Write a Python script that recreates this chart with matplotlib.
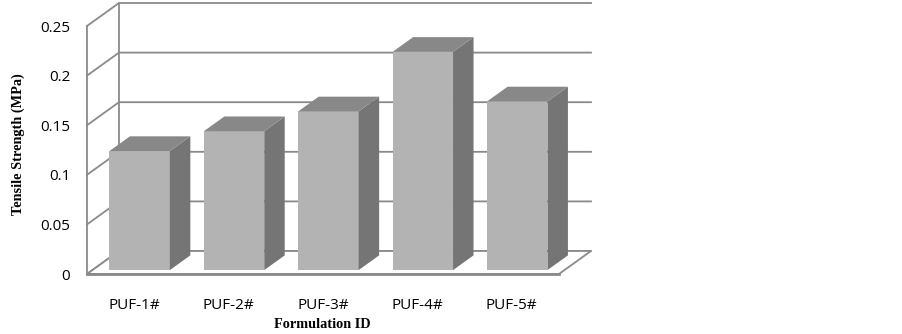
import matplotlib
matplotlib.use("Agg")
import matplotlib.pyplot as plt
from matplotlib.patches import Polygon
from matplotlib.ticker import FixedLocator, FixedFormatter

# ---- data ----
categories = ["PUF-1#", "PUF-2#", "PUF-3#", "PUF-4#", "PUF-5#"]
values = [0.12, 0.14, 0.16, 0.22, 0.17]
y_ticks = [0, 0.05, 0.10, 0.15, 0.20, 0.25]
y_tick_labels = ["0", "0.05", "0.1", "0.15", "0.2", "0.25"]
x_title = "Formulation ID"
y_title = "Tensile Strength (MPa)"

# ---- styling ----
W, H = 903, 334
fig = plt.figure(figsize=(W / 100, H / 100), dpi=100)
fig.patch.set_facecolor("white")

# front plane of the 3D box, in pixels
fx0, fx1, fy0, fy1 = 87, 559, 274, 26
ax = fig.add_axes([fx0 / W, (H - fy0) / H, (fx1 - fx0) / W, (fy0 - fy1) / H])
n = len(categories)
ax.set_xlim(-0.5, n - 0.5)
ax.set_ylim(y_ticks[0], y_ticks[-1])
ax.patch.set_alpha(0)

px_per_x = (fx1 - fx0) / n
px_per_y = (fy0 - fy1) / (y_ticks[-1] - y_ticks[0])
# depth vector (oblique projection) in data units
Dx = 32 / px_per_x
Dy = 23 / px_per_y

line_col = "#8a8a8a"
lw = 1.3

x_left = -0.5
x_right = n - 0.5

# left wall and back wall gridlines
for t in y_ticks:
    ax.plot([x_left, x_left + Dx, x_right + Dx], [t, t + Dy, t + Dy],
            color=line_col, lw=lw, clip_on=False, zorder=1, solid_joinstyle="miter")
# back-left vertical edge
ax.plot([x_left + Dx, x_left + Dx], [y_ticks[0] + Dy, y_ticks[-1] + Dy],
        color=line_col, lw=lw, clip_on=False, zorder=1)

# floor
floor = Polygon([(x_left, 0), (x_right, 0), (x_right + Dx, Dy), (x_left + Dx, Dy)],
                closed=True, facecolor="white", edgecolor=line_col, lw=lw,
                clip_on=False, zorder=1.5)
ax.add_patch(floor)

# bars
bw = 0.64
d0, d1 = 0.17, 0.81
front_c = "#b3b3b3"
top_c = "#888888"
side_c = "#757575"
for i, v in enumerate(values):
    xa = i - bw / 2 + d0 * Dx
    xb = i + bw / 2 + d0 * Dx
    ya = d0 * Dy
    yb = v + d0 * Dy
    ddx = (d1 - d0) * Dx
    ddy = (d1 - d0) * Dy
    front = Polygon([(xa, ya), (xb, ya), (xb, yb), (xa, yb)], closed=True,
                    facecolor=front_c, edgecolor="none", clip_on=False, zorder=3)
    side = Polygon([(xb, ya), (xb + ddx, ya + ddy), (xb + ddx, yb + ddy), (xb, yb)],
                   closed=True, facecolor=side_c, edgecolor="none", clip_on=False, zorder=3)
    top = Polygon([(xa, yb), (xb, yb), (xb + ddx, yb + ddy), (xa + ddx, yb + ddy)],
                  closed=True, facecolor=top_c, edgecolor="none", clip_on=False, zorder=3)
    for p in (front, side, top):
        ax.add_patch(p)

# spines: front-left edge and floor front edge
for s in ("top", "right"):
    ax.spines[s].set_visible(False)
for s in ("left", "bottom"):
    ax.spines[s].set_color(line_col)
    ax.spines[s].set_linewidth(lw)
    ax.spines[s].set_zorder(2)
ax.spines["bottom"].set_linewidth(2.0)

ax.yaxis.set_major_locator(FixedLocator(y_ticks))
ax.yaxis.set_major_formatter(FixedFormatter(y_tick_labels))
ax.set_xticks(range(n))
ax.set_xticklabels(categories)
ax.tick_params(axis="y", length=0, pad=12)
ax.tick_params(axis="x", length=0, pad=17)
for lab in ax.get_yticklabels() + ax.get_xticklabels():
    lab.set_fontfamily("Open Sans")
    lab.set_fontsize(11)

title_font = dict(family="Liberation Serif", weight="bold", size=10.3, color="black")
fig.text(18 / W, 1 - 144 / H, y_title, rotation=90, ha="center", va="center", **title_font)
fig.text(322 / W, 1 - 324 / H, x_title, ha="center", va="center", **title_font)

fig.savefig("out.png", dpi=100, facecolor="white")
